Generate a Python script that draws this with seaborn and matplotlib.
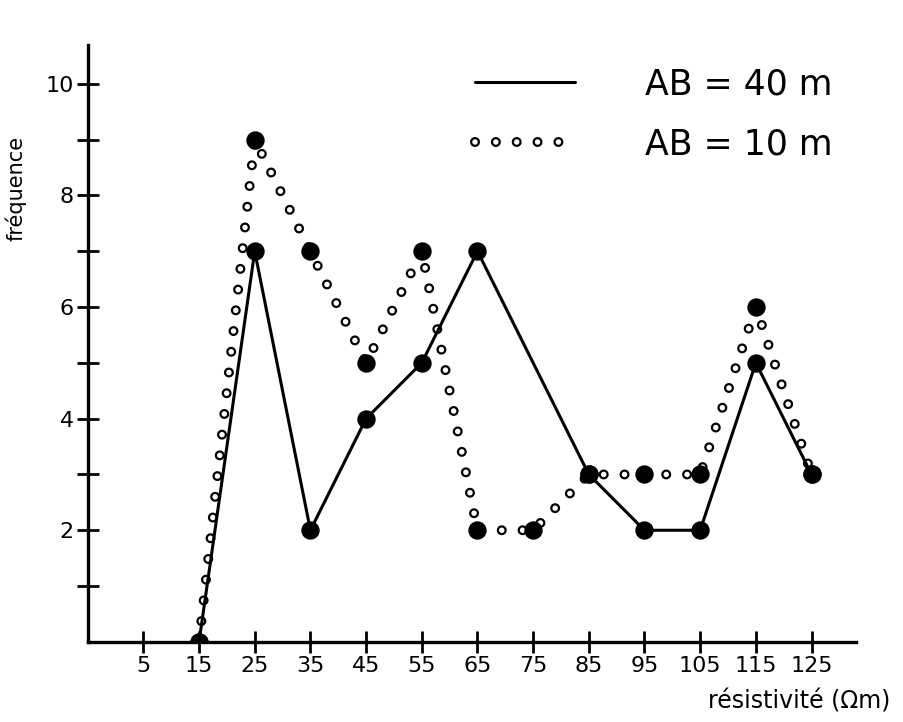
import matplotlib
matplotlib.use('Agg')
import matplotlib.pyplot as plt
import matplotlib.lines as mlines
from matplotlib.legend_handler import HandlerTuple
import pandas as pd
import seaborn as sns

# resistivity classes (ohm.m)
resistivite_40 = [15, 25, 35, 45, 55, 65, 85, 95, 105, 115, 125]
frequence_40 = [0, 7, 2, 4, 5, 7, 3, 2, 2, 5, 3]

resistivite_10 = [15, 25, 35, 45, 55, 65, 75, 85, 95, 105, 115, 125]
frequence_10 = [0, 9, 7, 5, 7, 2, 2, 3, 3, 3, 6, 3]

xtick_values = [5, 15, 25, 35, 45, 55, 65, 75, 85, 95, 105, 115, 125]
ytick_major = [2, 4, 6, 8, 10]
ytick_minor = [1, 3, 5, 7, 9]

DOTS = (0.01, 15)
RING_LW = 7.2
HOLE_LW = 4.0

sns.set_theme(style='white')
plt.rcParams['font.family'] = ['DejaVu Sans']
plt.rcParams['lines.scale_dashes'] = False
plt.rcParams['text.color'] = 'black'
plt.rcParams['xtick.color'] = 'black'
plt.rcParams['ytick.color'] = 'black'
plt.rcParams['axes.labelcolor'] = 'black'

df40 = pd.DataFrame({'x': resistivite_40, 'y': frequence_40})
df10 = pd.DataFrame({'x': resistivite_10, 'y': frequence_10})

fig = plt.figure(figsize=(9.04, 7.22), dpi=100)
ax = fig.add_axes([0.097, 0.111, 0.85, 0.827])

# AB = 10 m : open circles along the polyline (black dots with white centres)
sns.lineplot(data=df10, x='x', y='y', ax=ax, color='black', linewidth=RING_LW, sort=False, zorder=2)
ln_b = ax.lines[-1]
ln_b.set_dashes(DOTS)
ln_b.set_dash_capstyle('round')
sns.lineplot(data=df10, x='x', y='y', ax=ax, color='white', linewidth=HOLE_LW, sort=False, zorder=3)
ln_w = ax.lines[-1]
ln_w.set_dashes(DOTS)
ln_w.set_dash_capstyle('round')

# AB = 40 m : solid line
sns.lineplot(data=df40, x='x', y='y', ax=ax, color='black', linewidth=2.2, sort=False, zorder=4)

# filled points for both series
sns.scatterplot(data=df10, x='x', y='y', ax=ax, color='black', s=150, edgecolor='black', zorder=5)
sns.scatterplot(data=df40, x='x', y='y', ax=ax, color='black', s=150, edgecolor='black', zorder=5)

ax.set_xlim(-5, 133)
ax.set_ylim(0, 10.7)
for side in ['top', 'right']:
    ax.spines[side].set_visible(False)
for side in ['left', 'bottom']:
    ax.spines[side].set_linewidth(2.4)
    ax.spines[side].set_color('black')

ax.set_xticks(xtick_values)
ax.set_xticklabels([str(v) for v in xtick_values], fontsize=16)
ax.set_yticks(ytick_major)
ax.set_yticklabels([str(v) for v in ytick_major], fontsize=16)
ax.set_yticks(ytick_minor, minor=True)
ax.tick_params(axis='both', which='both', direction='inout', length=16, width=2, color='black',
               left=True, bottom=True)
ax.tick_params(axis='x', which='major', pad=2)
ax.tick_params(axis='y', which='major', pad=2)

ax.set_xlabel('')
ax.set_ylabel('fréquence', fontsize=15)
ax.yaxis.set_label_coords(-0.08, 0.76)
fig.text(0.985, 0.012, 'résistivité (Ωm)', ha='right', va='bottom', fontsize=17)

# legend
h40 = mlines.Line2D([], [], color='black', linewidth=2.2)
hb = mlines.Line2D([], [], color='black', linewidth=RING_LW, dashes=DOTS, dash_capstyle='round')
hw = mlines.Line2D([], [], color='white', linewidth=HOLE_LW, dashes=DOTS, dash_capstyle='round')
ax.legend([h40, (hb, hw)], ['AB = 40 m', 'AB = 10 m'],
          handler_map={tuple: HandlerTuple(ndivide=1, pad=0)},
          loc='upper right', bbox_to_anchor=(1.01, 1.015), frameon=False, fontsize=25,
          handlelength=2.9, handletextpad=2.0, labelspacing=0.75)

fig.savefig('out.png', dpi=100)
plt.close('all')
